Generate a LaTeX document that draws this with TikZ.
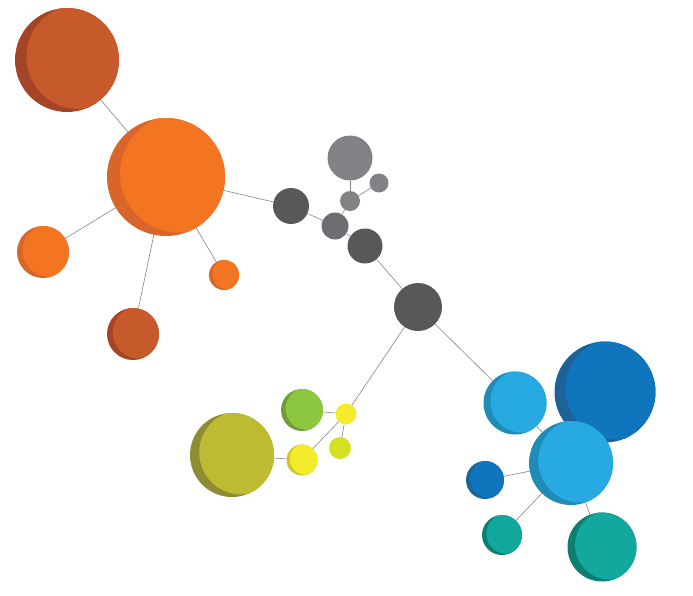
\documentclass[tikz,border=0pt]{standalone}
\usepackage{tikz}
\definecolor{RustFace}{HTML}{C65A2A}
\definecolor{RustShade}{HTML}{A54426}
\definecolor{OrngFace}{HTML}{F47521}
\definecolor{OrngShade}{HTML}{D8652A}
\definecolor{GrayDark}{HTML}{58585A}
\definecolor{GrayMid}{HTML}{6D6E71}
\definecolor{GrayLight}{HTML}{808285}
\definecolor{OliveFace}{HTML}{BDBB32}
\definecolor{OliveShade}{HTML}{8F8D33}
\definecolor{LimeFace}{HTML}{8DC63F}
\definecolor{LimeShade}{HTML}{6F9D38}
\definecolor{YelFace}{HTML}{F4EB2C}
\definecolor{YelShade}{HTML}{D3C62A}
\definecolor{YelGreen}{HTML}{D7DF23}
\definecolor{SkyFace}{HTML}{27AAE1}
\definecolor{SkyShade}{HTML}{1F8BB7}
\definecolor{NavyFace}{HTML}{0F75BC}
\definecolor{NavyShade}{HTML}{1C6497}
\definecolor{TealFace}{HTML}{13A89E}
\definecolor{TealShade}{HTML}{0D7E72}
\definecolor{LinkGray}{HTML}{858585}

\begin{document}
\begin{tikzpicture}[
                x=1pt, y=-1pt,
                ball/.style n args={3}{circle, inner sep=0pt, minimum size=#1pt, fill=#2,
                            path picture={\fill[#3] ([shift={(0.11*#1,-0.03*#1)}]path picture bounding box.center)
                                          circle[radius={0.5*#1pt}];}},
                flat/.style n args={2}{circle, inner sep=0pt, minimum size=#1pt, fill=#2},
                link/.style={LinkGray, line width=0.6pt}
            ]
                \useasboundingbox (0,0) rectangle (693,595);

                % orange cluster
                \node[ball={104}{RustShade}{RustFace}] (rustTop) at (67,60) {};
                \node[ball={118}{OrngShade}{OrngFace}] (orangeHub) at (166,177) {};
                \node[ball={52}{OrngShade}{OrngFace}] (orangeLeft) at (43,252) {};
                \node[ball={52}{RustShade}{RustFace}] (rustLow) at (133,334) {};
                \node[ball={30}{OrngShade}{OrngFace}] (orangeSmall) at (224,275) {};

                % gray chain
                \node[flat={36}{GrayDark}] (grayA) at (291,206) {};
                \node[flat={27}{GrayMid}] (grayB) at (335,226) {};
                \node[flat={20}{GrayLight}] (grayC) at (350,201) {};
                \node[flat={45}{GrayLight}] (grayTop) at (350,158) {};
                \node[flat={19}{GrayLight}] (grayRight) at (379,183) {};
                \node[flat={35}{GrayDark}] (grayD) at (365,246) {};
                \node[flat={48}{GrayDark}] (grayHub) at (418,307) {};

                % green and yellow cluster
                \node[ball={84}{OliveShade}{OliveFace}] (olive) at (232,455) {};
                \node[ball={42}{LimeShade}{LimeFace}] (lime) at (302,410) {};
                \node[flat={21}{YelFace}] (yelHub) at (346,414) {};
                \node[ball={31}{YelShade}{YelFace}] (yelLow) at (302,460) {};
                \node[flat={22}{YelGreen}] (yelSmall) at (340,448) {};

                % blue and teal cluster
                \node[ball={63}{SkyShade}{SkyFace}] (skyTop) at (515,403) {};
                \node[ball={101}{NavyShade}{NavyFace}] (navyBig) at (605,392) {};
                \node[ball={84}{SkyShade}{SkyFace}] (skyHub) at (571,463) {};
                \node[ball={38}{NavyShade}{NavyFace}] (navySmall) at (485,480) {};
                \node[ball={40}{TealShade}{TealFace}] (tealSmall) at (502,535) {};
                \node[ball={69}{TealShade}{TealFace}] (tealBig) at (602,547) {};

                \draw[link] (rustTop) -- (orangeHub);
                \draw[link] (orangeHub) -- (orangeLeft);
                \draw[link] (orangeHub) -- (rustLow);
                \draw[link] (orangeHub) -- (orangeSmall);
                \draw[link] (orangeHub) -- (grayA);
                \draw[link] (grayA) -- (grayB);
                \draw[link] (grayB) -- (grayC);
                \draw[link] (grayC) -- (grayTop);
                \draw[link] (grayC) -- (grayRight);
                \draw[link] (grayB) -- (grayD);
                \draw[link] (grayD) -- (grayHub);
                \draw[link] (grayHub) -- (yelHub);
                \draw[link] (grayHub) -- (skyTop);
                \draw[link] (yelHub) -- (lime);
                \draw[link] (yelHub) -- (yelLow);
                \draw[link] (yelHub) -- (yelSmall);
                \draw[link] (yelLow) -- (olive);
                \draw[link] (skyTop) -- (skyHub);
                \draw[link] (skyHub) -- (navySmall);
                \draw[link] (skyHub) -- (tealSmall);
                \draw[link] (skyHub) -- (tealBig);
            \end{tikzpicture}
\end{document}
